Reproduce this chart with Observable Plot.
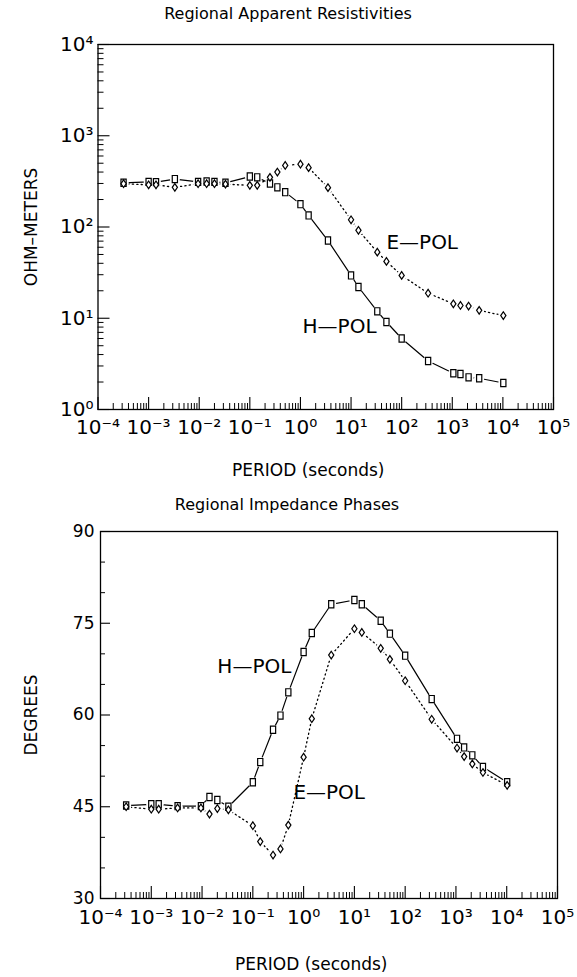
<!DOCTYPE html>
<html><head><meta charset="utf-8">
<script src="https://cdn.jsdelivr.net/npm/d3@7"></script>
<script src="https://cdn.jsdelivr.net/npm/@observablehq/plot@0.6"></script>
<style>
body{margin:0;background:#fff;}
#wrap{position:relative;width:577px;height:977px;font-family:"DejaVu Sans",sans-serif;color:#000;overflow:hidden;}
.lbl{position:absolute;white-space:nowrap;line-height:1;}
#p1{position:absolute;left:0;top:0;}
#p2{position:absolute;left:0;top:490px;}
</style></head><body>
<div id="wrap">
  <div id="p1"></div>
  <div id="p2"></div>
  <div class="lbl" style="left:288px;top:5.5px;font-size:16px;transform:translateX(-50%)">Regional Apparent Resistivities</div>
  <div class="lbl" style="left:232px;top:462px;font-size:17px">PERIOD (seconds)</div>
  <div class="lbl" style="left:287px;top:496.5px;font-size:16px;transform:translateX(-50%)">Regional Impedance Phases</div>
  <div class="lbl" style="left:235px;top:955.6px;font-size:17px">PERIOD (seconds)</div>
  <div class="lbl" style="left:31px;top:227px;font-size:17px;transform:translate(-50%,-50%) rotate(-90deg)">OHM–METERS</div>
  <div class="lbl" style="left:31px;top:715px;font-size:17px;transform:translate(-50%,-50%) rotate(-90deg)">DEGREES</div>
</div>
<script>
// ---- data ----
const periods = [0.00032, 0.001, 0.0014, 0.0033, 0.0095, 0.014, 0.02, 0.033, 0.1, 0.14, 0.25, 0.35, 0.5, 1.0, 1.45, 3.5, 10, 14, 33, 50, 100, 333, 1050, 1450, 2100, 3400, 10200];
const rhoH = [305, 312, 310, 335, 312, 315, 312, 305, 357, 350, 300, 272, 241, 178, 134, 71, 29.5, 22, 11.9, 9.1, 6.0, 3.4, 2.5, 2.45, 2.25, 2.2, 1.95];
const rhoE = [298, 290, 290, 272, 298, 298, 298, 295, 286, 286, 350, 400, 473, 488, 447, 270, 120, 92, 53, 42, 29.5, 18.8, 14.4, 13.8, 13.6, 12.2, 10.7];
const phaseH = [45.2, 45.4, 45.4, 45.1, 45.1, 46.6, 46.1, 45.0, 49.0, 52.3, 57.6, 59.9, 63.7, 70.3, 73.4, 78.1, 78.8, 78.1, 75.4, 73.3, 69.7, 62.6, 56.1, 54.7, 53.4, 51.5, 49.0];
const phaseE = [45.0, 44.6, 44.6, 44.8, 44.8, 43.8, 44.7, 44.5, 41.9, 39.3, 37.1, 38.1, 42.0, 53.1, 59.4, 69.8, 74.1, 73.5, 70.9, 69.1, 65.6, 59.3, 54.6, 53.2, 52.0, 50.6, 48.5];

const xTicks = [1e-4, 1e-3, 1e-2, 1e-1, 1e0, 1e1, 1e2, 1e3, 1e4, 1e5];
const xTickLabels = ["10⁻⁴", "10⁻³", "10⁻²", "10⁻¹", "10⁰", "10¹", "10²", "10³", "10⁴", "10⁵"];
const rhoTicks = [1, 10, 100, 1000, 10000];
const rhoTickLabels = ["10⁰", "10¹", "10²", "10³", "10⁴"];
const phaseTicks = [30, 45, 60, 75, 90];
const phaseMinor = [35, 40, 50, 55, 65, 70, 80, 85];

const rhoLabels = [{text: "E—POL", period: 50, value: 68}, {text: "H—POL", period: 1.1, value: 8.1}];
const phaseLabels = [{text: "H—POL", period: 0.02, value: 67.9}, {text: "E—POL", period: 0.63, value: 47.3}];

// ---- build ----
const H = periods.map((p, i) => ({period: p, rho: rhoH[i], phase: phaseH[i]}));
const E = periods.map((p, i) => ({period: p, rho: rhoE[i], phase: phaseE[i]}));
const all = H.concat(E);

const isDecade = v => Math.abs(Math.log10(v) - Math.round(Math.log10(v))) < 1e-6;
const xMinor = d3.scaleLog().domain([1e-4, 1e5]).ticks().filter(v => !isDecade(v));
const rhoMinor = d3.scaleLog().domain([1, 1e4]).ticks().filter(v => !isDecade(v));

const rectSym = {draw(c) { c.moveTo(-2.6, -3.6); c.lineTo(2.6, -3.6); c.lineTo(2.6, 3.6); c.lineTo(-2.6, 3.6); c.closePath(); }};
const diamSym = {draw(c) { c.moveTo(0, -3.8); c.lineTo(2.6, 0); c.lineTo(0, 3.8); c.lineTo(-2.6, 0); c.closePath(); }};

const fmtX = d => xTickLabels[xTicks.findIndex(t => Math.abs(Math.log10(t) - Math.log10(d)) < 1e-6)];
const fmtR = d => rhoTickLabels[rhoTicks.findIndex(t => Math.abs(Math.log10(t) - Math.log10(d)) < 1e-6)];

function panel({width, height, mt, mb, ml, mr, y, yKey, yMajor, yMinor, yTickSize, labels, ytp, xtp}) {
  const iw = width - ml - mr, ih = height - mt - mb;
  return Plot.plot({
    width, height, marginTop: mt, marginBottom: mb, marginLeft: ml, marginRight: mr,
    style: {fontFamily: "DejaVu Sans", fontSize: "20px", background: "transparent", overflow: "visible", color: "black"},
    x: {type: "log", domain: [1e-4, 1e5], ticks: xTicks, tickFormat: fmtX, tickSize: 0, tickPadding: xtp, label: null},
    y: {...y, ticks: yMajor, tickSize: 0, tickPadding: ytp, label: null},
    marks: [
      Plot.tickX(xMinor, {x: d => d, insetTop: ih - 6, stroke: "black", strokeWidth: 1}),
      Plot.tickX(xTicks, {x: d => d, insetTop: ih - 12, stroke: "black", strokeWidth: 1.1}),
      Plot.tickY(yMinor, {y: d => d, insetRight: iw - yTickSize / 2, stroke: "black", strokeWidth: 1}),
      Plot.tickY(yMajor, {y: d => d, insetRight: iw - yTickSize, stroke: "black", strokeWidth: 1.1}),
      Plot.frame({stroke: "black", strokeWidth: 1.3}),
      Plot.line(E, {x: "period", y: yKey, stroke: "black", strokeWidth: 1.3, strokeDasharray: "1.2,3.2"}),
      Plot.line(H, {x: "period", y: yKey, stroke: "black", strokeWidth: 1.2}),
      Plot.dot(all, {x: "period", y: yKey, r: 5, fill: "white"}),
      Plot.dot(H, {x: "period", y: yKey, symbol: rectSym, stroke: "black", fill: "white", strokeWidth: 1.2}),
      Plot.dot(E, {x: "period", y: yKey, symbol: diamSym, stroke: "black", fill: "white", strokeWidth: 1.2}),
      Plot.text(labels, {x: "period", y: "value", text: "text", textAnchor: "start", fontSize: 20, fill: "black"})
    ]
  });
}

const p1 = panel({width: 577, height: 440, mt: 44, mb: 31, ml: 97.5, mr: 24,
  y: {type: "log", domain: [1, 1e4], tickFormat: fmtR}, yKey: "rho", yMajor: rhoTicks, yMinor: rhoMinor,
  yTickSize: 12, labels: rhoLabels, ytp: 4.5, xtp: 10});
document.getElementById("p1").appendChild(p1);

const p2 = panel({width: 577, height: 440, mt: 41, mb: 32, ml: 100, mr: 20,
  y: {type: "linear", domain: [30, 90]}, yKey: "phase", yMajor: phaseTicks, yMinor: phaseMinor,
  yTickSize: 10, labels: phaseLabels, ytp: 6, xtp: 11});
document.getElementById("p2").appendChild(p2);
d3.select(p2).selectAll('g[aria-label^="y-axis"] text').style("font-size", "17px");
</script>
</body></html>
